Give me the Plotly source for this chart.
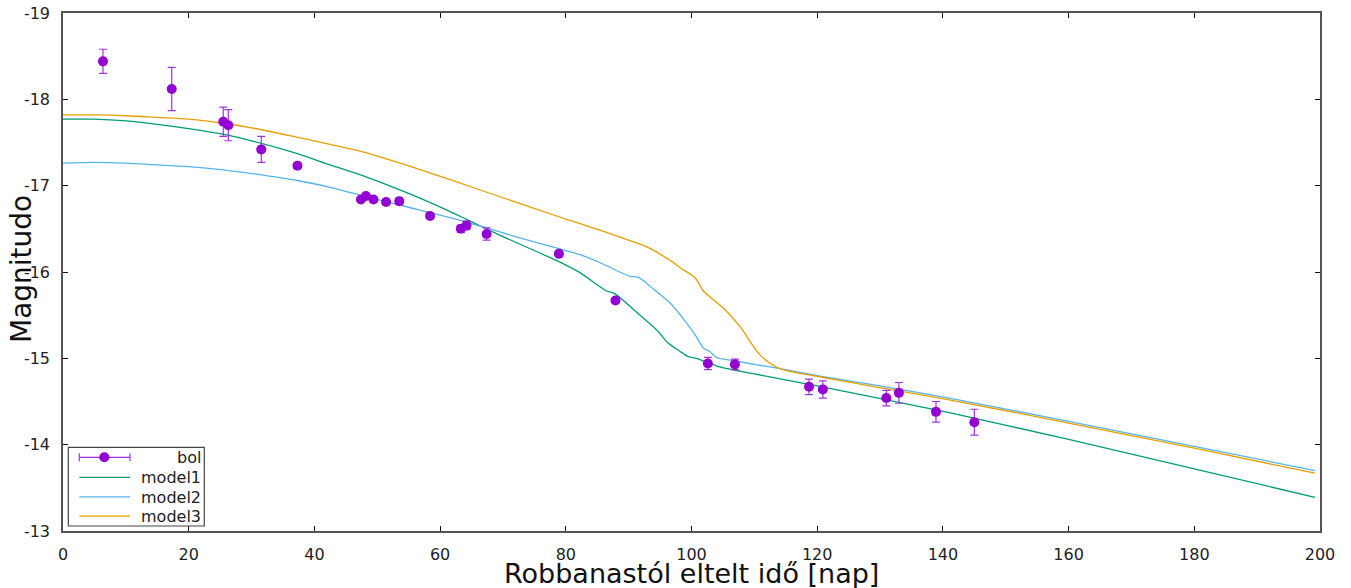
import plotly.graph_objects as go

# Bolometric light curve: observed points
bol_day = [6.36, 17.3, 25.5, 26.3, 31.55, 37.3, 47.4, 48.2, 49.4, 51.4, 53.5, 58.4,
           63.3, 64.2, 67.4, 78.9, 87.9, 102.6, 106.9, 118.7, 120.9, 131.0, 133.0,
           138.9, 145.0]
bol_mag = [-18.44, -18.12, -17.74, -17.70, -17.42, -17.23, -16.84, -16.88, -16.84,
           -16.81, -16.82, -16.65, -16.50, -16.54, -16.44, -16.21, -15.67, -14.94,
           -14.93, -14.67, -14.64, -14.54, -14.60, -14.38, -14.26]
bol_err = [0.14, 0.25, 0.17, 0.18, 0.15, 0.03, 0.02, 0.02, 0.02, 0.03, 0.04, 0.02,
           0.04, 0.05, 0.07, 0.02, 0.02, 0.07, 0.06, 0.09, 0.10, 0.09, 0.12, 0.12,
           0.15]

# Model light curves
m1_day = [0, 5, 10, 15, 20, 25.8, 30, 37.3, 42.5, 48.3, 55, 61.6, 64.2, 70, 78.9,
          82.3, 86.5, 87.8, 91, 94.7, 96.1, 98.2, 99.5, 100.8, 104.5, 110, 120,
          141, 160, 180, 199.2]
m1_mag = [-17.77, -17.77, -17.75, -17.71, -17.66, -17.59, -17.52, -17.37, -17.24,
          -17.10, -16.91, -16.70, -16.61, -16.41, -16.12, -15.99, -15.78, -15.75,
          -15.55, -15.31, -15.19, -15.08, -15.02, -15.00, -14.90, -14.82, -14.68,
          -14.37, -14.06, -13.72, -13.39]

m2_day = [0, 5, 10, 15, 20, 25.8, 30, 37.3, 42.5, 48.3, 55, 61.6, 67.4, 72, 78.9,
          82.3, 86, 90.2, 91.5, 94, 96.6, 99.2, 100.6, 101.9, 102.9, 104.0, 107,
          110, 114.1, 120, 130, 141, 160, 180, 199.2]
m2_mag = [-17.26, -17.27, -17.26, -17.24, -17.22, -17.18, -17.14, -17.06, -16.98,
          -16.87, -16.75, -16.63, -16.51, -16.41, -16.27, -16.20, -16.09, -15.95,
          -15.94, -15.80, -15.64, -15.41, -15.27, -15.12, -15.08, -15.01, -14.97,
          -14.93, -14.88, -14.80, -14.68, -14.54, -14.27, -13.98, -13.70]

m3_day = [0, 5, 10, 15, 20, 25.8, 30, 37.3, 43, 48.3, 55, 61.6, 70, 78.9, 82.3,
          86, 89.5, 92.9, 96.9, 98.2, 100.6, 101.9, 105.1, 107.7, 110.9, 114.1,
          120, 130, 141, 160, 180, 199.2]
m3_mag = [-17.82, -17.82, -17.81, -17.79, -17.77, -17.72, -17.67, -17.56, -17.47,
          -17.38, -17.23, -17.07, -16.86, -16.64, -16.56, -16.47, -16.38, -16.29,
          -16.12, -16.05, -15.93, -15.78, -15.58, -15.37, -15.04, -14.88, -14.79,
          -14.66, -14.52, -14.25, -13.96, -13.67]

x_ticks = [0, 20, 40, 60, 80, 100, 120, 140, 160, 180, 200]
x_ticktext = ["0", "20", "40", "60", "80", "100", "120", "140", "160", "180", "200"]
y_ticks = [-19, -18, -17, -16, -15, -14, -13]
y_ticktext = ["-19", "-18", "-17", "-16", "-15", "-14", "-13"]

series_names = ["bol", "model1", "model2", "model3"]
c_bol = "#9400d3"
c_bar = "#a432e0"
c_m1 = "#009e73"
c_m2 = "#56b4e9"
c_m3 = "#e69f00"

FONT = "DejaVu Sans"
W, H = 1351, 588
ML, MR, MT, MB = 63, 31, 13, 57
PW, PH = W - ML - MR, H - MT - MB


def px(xp):
    return (xp - ML) / PW


def py(yp):
    return (H - MB - yp) / PH


def model_line(color):
    return dict(color=color, width=1.3, shape="spline", smoothing=0.8)


fig = go.Figure()
fig.add_trace(go.Scatter(x=m1_day, y=m1_mag, mode="lines", name="model1",
                         line=model_line(c_m1)))
fig.add_trace(go.Scatter(x=m2_day, y=m2_mag, mode="lines", name="model2",
                         line=model_line(c_m2)))
fig.add_trace(go.Scatter(x=m3_day, y=m3_mag, mode="lines", name="model3",
                         line=model_line(c_m3)))
fig.add_trace(go.Scatter(x=bol_day, y=bol_mag, mode="markers", name="bol",
                         marker=dict(color=c_bol, size=10, line=dict(width=0)),
                         error_y=dict(type="data", array=bol_err, visible=True,
                                      color=c_bar, thickness=1.2, width=4)))

# Hand-built legend box, right-aligned labels
shapes = [dict(type="rect", xref="paper", yref="paper",
               x0=px(68.3), x1=px(204.3), y0=py(526), y1=py(447.3),
               line=dict(color="#444", width=1.2), fillcolor="white", layer="above")]
rows_y = [457.3, 477.3, 496.8, 516.2]
# bol sample: horizontal bar with end caps and a dot
shapes.append(dict(type="line", xref="paper", yref="paper", x0=px(79.3), x1=px(130),
                   y0=py(rows_y[0]), y1=py(rows_y[0]),
                   line=dict(color=c_bar, width=1.2), layer="above"))
for cx in (79.3, 130):
    shapes.append(dict(type="line", xref="paper", yref="paper", x0=px(cx), x1=px(cx),
                       y0=py(rows_y[0] - 4), y1=py(rows_y[0] + 4),
                       line=dict(color=c_bar, width=1.2), layer="above"))
shapes.append(dict(type="circle", xref="paper", yref="paper",
                   x0=px(104.3 - 5), x1=px(104.3 + 5),
                   y0=py(rows_y[0] + 5), y1=py(rows_y[0] - 5),
                   fillcolor=c_bol, line=dict(width=0), layer="above"))
for ry, col in zip(rows_y[1:], [c_m1, c_m2, c_m3]):
    shapes.append(dict(type="line", xref="paper", yref="paper", x0=px(79.3), x1=px(130),
                       y0=py(ry), y1=py(ry), line=dict(color=col, width=1.3),
                       layer="above"))

annotations = []
for ry, name in zip(rows_y, series_names):
    annotations.append(dict(x=px(203), y=py(ry + 0.5), xref="paper", yref="paper",
                            text=name, showarrow=False, xanchor="right",
                            yanchor="middle",
                            font=dict(family=FONT, size=16, color="#222")))

# Axis titles
annotations.append(dict(x=px(692), y=py(573), xref="paper", yref="paper",
                        text="Robbanastól eltelt idő [nap]", showarrow=False,
                        xanchor="center", yanchor="middle",
                        font=dict(family=FONT, size=27, color="#111")))
annotations.append(dict(x=px(21), y=py(269), xref="paper", yref="paper",
                        text="Magnitudo", showarrow=False, textangle=-90,
                        xanchor="center", yanchor="middle",
                        font=dict(family=FONT, size=28, color="#111")))

axis_common = dict(showgrid=False, zeroline=False, showline=True, linecolor="#555",
                   linewidth=1.5, mirror="ticks", ticks="inside", ticklen=5,
                   tickwidth=1, tickcolor="#111", automargin=False,
                   tickfont=dict(family=FONT, size=16, color="#222"))

fig.update_layout(
    width=W, height=H,
    margin=dict(l=ML, r=MR, t=MT, b=MB),
    paper_bgcolor="white", plot_bgcolor="white",
    showlegend=False,
    font=dict(family=FONT),
    xaxis=dict(range=[0, 200], tickvals=x_ticks, ticktext=x_ticktext,
               ticklabelstandoff=8, **axis_common),
    yaxis=dict(range=[-13, -19], tickvals=y_ticks, ticktext=y_ticktext,
               ticklabelstandoff=8, **axis_common),
    shapes=shapes,
    annotations=annotations,
)

fig.write_html("out.html")
